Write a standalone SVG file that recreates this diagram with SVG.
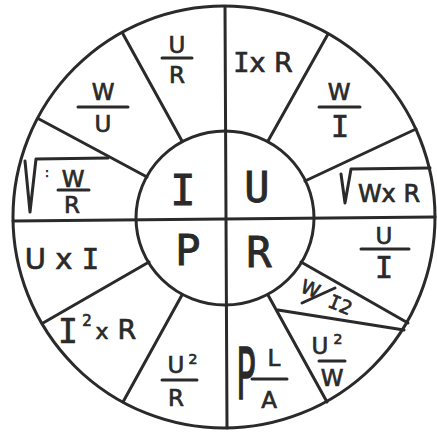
<svg xmlns="http://www.w3.org/2000/svg" width="437" height="432" viewBox="0 0 437 432">
<style>
.ln{stroke:#2a2a2a;stroke-width:3;fill:none;stroke-linecap:round;stroke-linejoin:round}
.t{font-family:"DejaVu Sans",sans-serif;fill:#2a2a2a;stroke:#2a2a2a;stroke-width:0.7;text-anchor:middle}
.m{font-family:"DejaVu Sans Mono",monospace}
.big{font-family:"DejaVu Sans Mono",monospace;font-size:42px;stroke-width:0.9}
.f{font-size:23px}
</style>
<rect width="437" height="432" fill="#fff"/>
<g id="wheel-lines">
<circle class="ln" cx="224" cy="217" r="211"/>
<ellipse class="ln" cx="225" cy="218" rx="89" ry="87"/>
<line class="ln" x1="13" y1="221" x2="435" y2="217"/>
<line class="ln" x1="225" y1="7" x2="227" y2="428"/>
<line class="ln" x1="182" y1="141" x2="123" y2="34"/>
<line class="ln" x1="147" y1="177" x2="39" y2="119"/>
<line class="ln" x1="268" y1="141" x2="328" y2="34"/>
<line class="ln" x1="305" y1="181" x2="416" y2="129"/>
<line class="ln" x1="301" y1="262" x2="408" y2="323"/>
<line class="ln" x1="268" y1="295" x2="327" y2="402"/>
<line class="ln" x1="278" y1="310" x2="404" y2="330"/>
<line class="ln" x1="149" y1="262" x2="43" y2="323"/>
<line class="ln" x1="182" y1="295" x2="123" y2="402"/>
</g>
<g id="inner-I"><text class="t big" x="183" y="205">I</text></g>
<g id="inner-U"><text class="t big" x="257" y="202">U</text></g>
<g id="inner-P"><text class="t big" x="188" y="265">P</text></g>
<g id="inner-R"><text class="t big" x="259" y="267">R</text></g>

<g id="U-over-R">
<text class="t f" x="177" y="53">U</text>
<line class="ln" x1="162" y1="58" x2="192" y2="58"/>
<text class="t f" x="177" y="83">R</text>
</g>
<g id="W-over-U">
<text class="t f" x="103" y="100">W</text>
<line class="ln" x1="78" y1="107" x2="128" y2="107"/>
<text class="t f" x="103" y="132">U</text>
</g>
<g id="sqrt-W-over-R">
<path class="ln" d="M25 161 L30 212 L36 159 L108 158"/>
<text class="t" x="47" y="177" font-size="12">:</text>
<text class="t f" x="73" y="187">W</text>
<line class="ln" x1="58" y1="190" x2="89" y2="190"/>
<text class="t f" x="72" y="213">R</text>
</g>
<g id="I-x-R">
<text class="t" x="263" y="72" font-size="27"><tspan class="m">I</tspan>x R</text>
</g>
<g id="W-over-I">
<text class="t f" x="339" y="100">W</text>
<line class="ln" x1="319" y1="107" x2="360" y2="107"/>
<text class="t m" x="340" y="137" font-size="30">I</text>
</g>
<g id="sqrt-WxR">
<path class="ln" d="M341 174 L345 203 L351 169 L430 168"/>
<text class="t" x="389" y="202" font-size="24">Wx R</text>
</g>
<g id="U-over-I">
<text class="t f" x="384" y="244">U</text>
<line class="ln" x1="361" y1="249" x2="409" y2="249"/>
<text class="t m" x="384" y="278" font-size="30">I</text>
</g>
<g id="W-over-I2">
<text class="t" transform="translate(308,295) rotate(22)" font-size="19">W</text>
<line class="ln" x1="302" y1="303" x2="335" y2="288"/>
<text class="t" transform="translate(338,311) rotate(22)" font-size="19"><tspan class="m">I</tspan>2</text>
</g>
<g id="U2-over-W">
<text class="t f" x="320" y="354">U</text>
<text class="t" x="338" y="344" font-size="14">2</text>
<line class="ln" x1="319" y1="361" x2="345" y2="361"/>
<text class="t f" x="332" y="386">W</text>
</g>
<g id="rho-L-over-A">
<text class="t" transform="translate(246,399) scale(1,2.2)" font-size="32">P</text>
<text class="t f" x="274" y="366">L</text>
<line class="ln" x1="252" y1="379" x2="287" y2="379"/>
<text class="t f" x="269" y="408">A</text>
</g>
<g id="U-x-I">
<text class="t" x="62" y="269" font-size="29">U x <tspan class="m">I</tspan></text>
</g>
<g id="I2-x-R">
<text class="t m" x="68" y="343" font-size="33">I</text>
<text class="t" x="87" y="326" font-size="15">2</text>
<text class="t" x="102" y="339" font-size="22">x</text>
<text class="t" x="127" y="339" font-size="27">R</text>
</g>
<g id="U2-over-R">
<text class="t f" x="176" y="373">U</text>
<text class="t" x="193" y="364" font-size="14">2</text>
<line class="ln" x1="162" y1="380" x2="197" y2="380"/>
<text class="t f" x="176" y="406">R</text>
</g>
</svg>
